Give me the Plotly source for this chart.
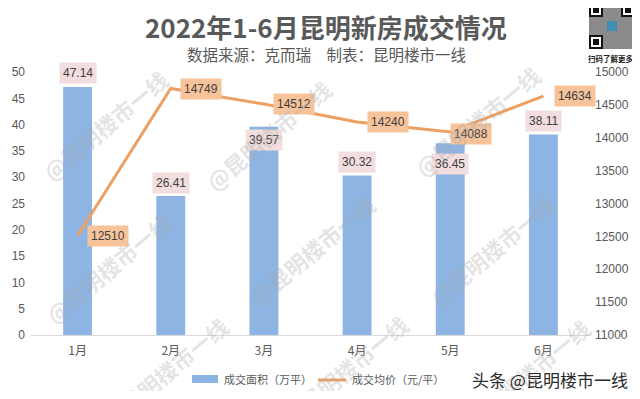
import plotly.graph_objects as go

# ---------------- data ----------------
months = ["1月", "2月", "3月", "4月", "5月", "6月"]
area = [47.14, 26.41, 39.57, 30.32, 36.45, 38.11]          # 成交面积（万平）
price = [12510, 14749, 14512, 14240, 14088, 14634]         # 成交均价（元/平）
left_ticks = [0, 5, 10, 15, 20, 25, 30, 35, 40, 45, 50]
right_ticks = [11000, 11500, 12000, 12500, 13000, 13500, 14000, 14500, 15000]

title_text = "2022年1-6月昆明新房成交情况"
subtitle_text = "数据来源：克而瑞　制表：昆明楼市一线"
legend_names = ["成交面积（万平）", "成交均价（元/平）"]
watermark_text = "@昆明楼市一线"
footer_text = "头条 @昆明楼市一线"
qr_caption = "扫码了解更多"

# ---------------- styles / layout helpers ----------------
# the page body has an 8px margin: size the figure so the page is exactly 640x399
OFF = 8
W, H = 640 - OFF, 399 - 2 * OFF
PW, PH = 559, 263
L, T = 31 - OFF, 72 - OFF
R, B = W - L - PW, H - T - PH

def px(x):
    return (x - OFF - L) / PW

def py(y):
    return (T + PH - (y - OFF)) / PH

area_label_shift = [14, 13, -13, 14, -21, 14]
price_label_xshift = [9, 9, 9, 10, 0, 11]
price_label_yshift = [0, 0, 0, 0, -2, 0]
watermark_pos = [(105, 125), (268, 135), (477, 121), (108, 268), (312, 250),
                 (492, 250), (165, 372), (345, 370), (527, 374)]

BAR_COLOR = "#8DB4E2"
LINE_COLOR = "#EDA062"
TXT = "#595959"
CJK = "Noto Sans CJK SC"
NUM = "Liberation Sans"

fig = go.Figure()
fig.add_trace(go.Bar(x=months, y=area, width=0.31, marker_color=BAR_COLOR,
                     marker_line_width=0, name=legend_names[0], yaxis="y"))
fig.add_trace(go.Scatter(x=months, y=price, mode="lines", name=legend_names[1],
                         line=dict(color=LINE_COLOR, width=3), yaxis="y2"))

ann = []
# bar labels
for m, v, s in zip(months, area, area_label_shift):
    ann.append(dict(x=m, y=v, xref="x", yref="y", text=f"{v:.2f}", showarrow=False,
                    yshift=s, font=dict(family=NUM, size=12, color="#404040"),
                    bgcolor="#F2DEDE", borderpad=3))
# price labels
for m, v, xs, ys in zip(months, price, price_label_xshift, price_label_yshift):
    ann.append(dict(x=m, y=v, xref="x", yref="y2", text=str(v), showarrow=False,
                    xanchor="left", xshift=xs, yshift=ys,
                    font=dict(family=NUM, size=12, color="#404040"),
                    bgcolor="#F7C39A", borderpad=3))
# watermarks
for (wx, wy) in watermark_pos:
    ann.append(dict(x=px(wx), y=py(wy), xref="paper", yref="paper", text=f"<b>{watermark_text}</b>",
                    showarrow=False, textangle=-40, xanchor="center", yanchor="middle",
                    font=dict(family=CJK, size=22, color="rgba(170,170,170,0.33)")))
# title & subtitle
ann.append(dict(x=px(326), y=py(26), xref="paper", yref="paper", text=f"<b>{title_text}</b>",
                showarrow=False, xanchor="center", yanchor="middle",
                font=dict(family=CJK, size=26, color=TXT)))
ann.append(dict(x=px(326), y=py(54), xref="paper", yref="paper", text=subtitle_text,
                showarrow=False, xanchor="center", yanchor="middle",
                font=dict(family=CJK, size=15.5, color=TXT)))
# legend texts
ann.append(dict(x=px(222), y=py(379), xref="paper", yref="paper", text=legend_names[0],
                showarrow=False, xanchor="left", yanchor="middle",
                font=dict(family=CJK, size=11, color=TXT)))
ann.append(dict(x=px(350), y=py(379), xref="paper", yref="paper", text=legend_names[1],
                showarrow=False, xanchor="left", yanchor="middle",
                font=dict(family=CJK, size=11, color=TXT)))
# footer
ann.append(dict(x=px(630), y=py(379), xref="paper", yref="paper", text=footer_text,
                showarrow=False, xanchor="right", yanchor="middle",
                font=dict(family=CJK, size=17, color="#2b2b2b")))
# QR caption
ann.append(dict(x=px(611), y=py(59), xref="paper", yref="paper", text=f"<b>{qr_caption}</b>",
                showarrow=False, xanchor="center", yanchor="middle",
                font=dict(family=CJK, size=7.5, color="#222")))

shapes = []
# legend marks
shapes.append(dict(type="rect", xref="paper", yref="paper", x0=px(192), x1=px(218),
                   y0=py(383), y1=py(375), fillcolor=BAR_COLOR, line_width=0))
shapes.append(dict(type="line", xref="paper", yref="paper", x0=px(318), x1=px(346),
                   y0=py(380), y1=py(380), line=dict(color=LINE_COLOR, width=3)))
# QR code approximation
qx0, qy0, qs = 589, 3, 46
shapes.append(dict(type="rect", xref="paper", yref="paper", x0=px(qx0), x1=px(qx0 + qs),
                   y0=py(qy0 + qs), y1=py(qy0), fillcolor="#8a8a8a", line_width=0))
for fx, fy in [(qx0, qy0), (qx0 + qs - 14, qy0), (qx0, qy0 + qs - 14)]:
    shapes.append(dict(type="rect", xref="paper", yref="paper", x0=px(fx), x1=px(fx + 14),
                       y0=py(fy + 14), y1=py(fy), fillcolor="#111", line_width=0))
    shapes.append(dict(type="rect", xref="paper", yref="paper", x0=px(fx + 2), x1=px(fx + 12),
                       y0=py(fy + 12), y1=py(fy + 2), fillcolor="#fff", line_width=0))
    shapes.append(dict(type="rect", xref="paper", yref="paper", x0=px(fx + 4), x1=px(fx + 10),
                       y0=py(fy + 10), y1=py(fy + 4), fillcolor="#111", line_width=0))
shapes.append(dict(type="rect", xref="paper", yref="paper", x0=px(qx0 + 18), x1=px(qx0 + 28),
                   y0=py(qy0 + 28), y1=py(qy0 + 18), fillcolor="#3f8fb0", line_width=0))

fig.update_layout(
    width=W, height=H, margin=dict(l=L, r=R, t=T, b=B, autoexpand=False),
    paper_bgcolor="white", plot_bgcolor="white", showlegend=False,
    annotations=ann, shapes=shapes,
    xaxis=dict(type="category", range=[-0.5, 5.5], showline=True, linecolor="#D9D9D9",
               linewidth=1, ticks="", showgrid=False, zeroline=False, automargin=False,
               ticklabelstandoff=5, tickfont=dict(family=CJK, size=12, color=TXT)),
    yaxis=dict(range=[0, 50], tickvals=left_ticks, showgrid=False, zeroline=False,
               showline=False, ticks="", automargin=False, ticklabelstandoff=5,
               tickfont=dict(family=NUM, size=12, color=TXT)),
    yaxis2=dict(range=[11000, 15000], tickvals=right_ticks, tickformat="d", overlaying="y",
                side="right", showgrid=False, zeroline=False, showline=False, ticks="",
                automargin=False, ticklabelstandoff=4,
                tickfont=dict(family=NUM, size=12, color=TXT)),
)

fig.write_html("out.html")
